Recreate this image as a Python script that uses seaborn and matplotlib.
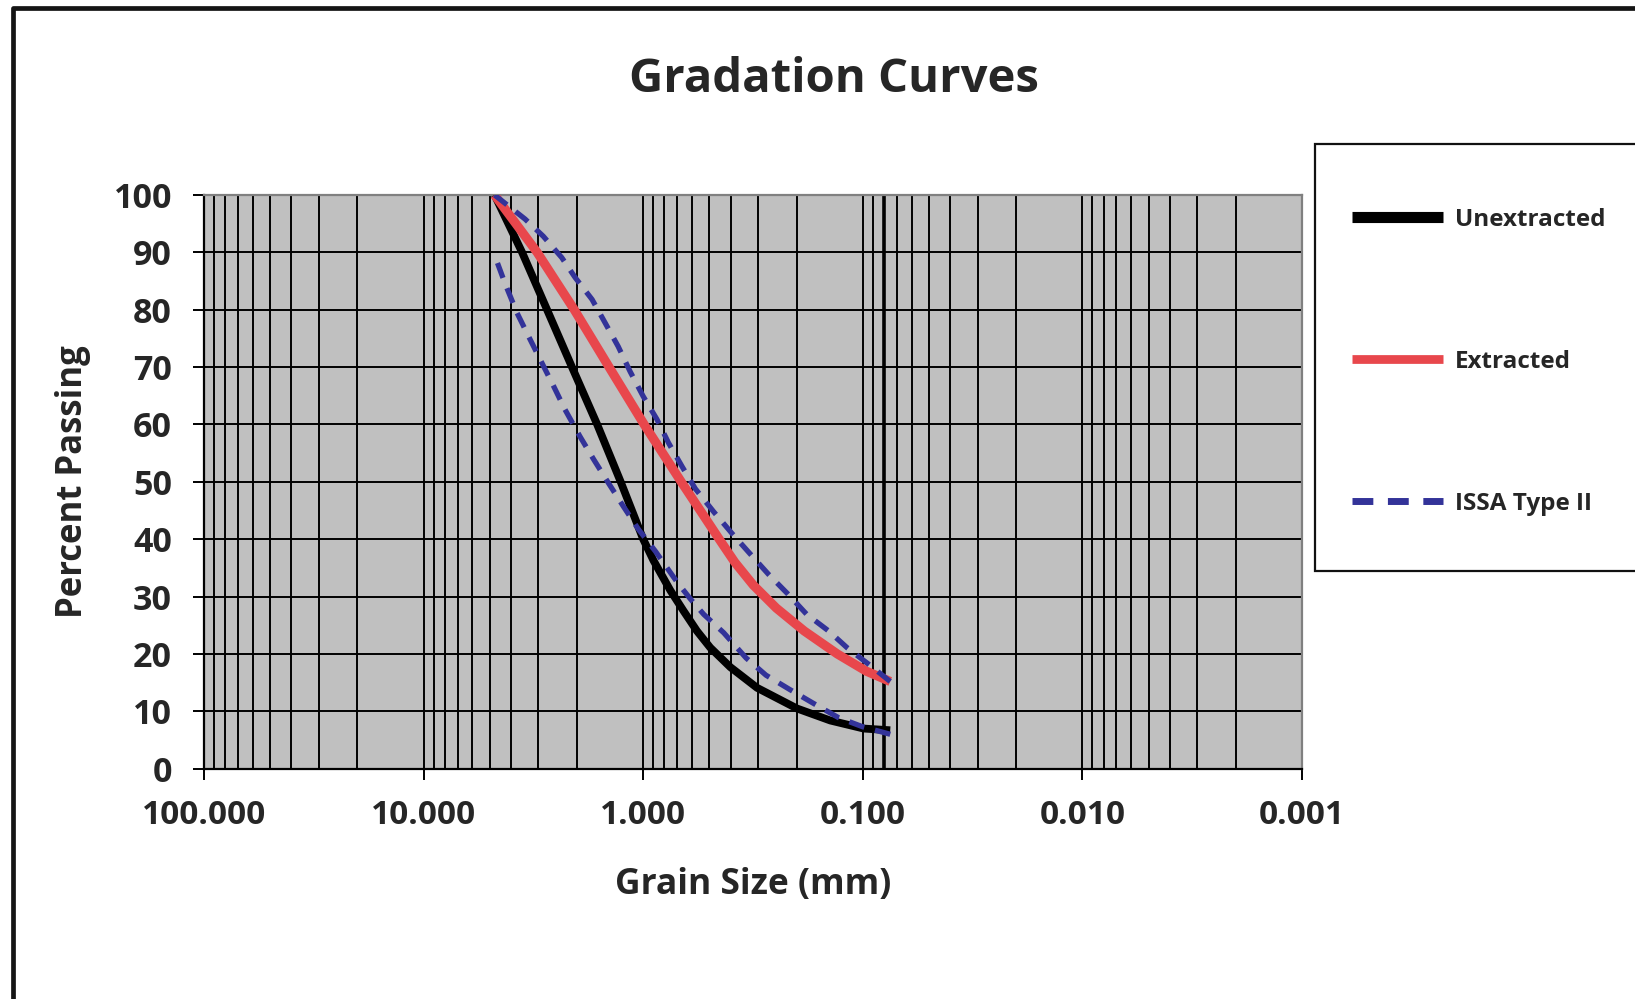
import matplotlib
matplotlib.use("Agg")
import matplotlib.pyplot as plt
import matplotlib.ticker as mticker
from matplotlib.patches import Rectangle
from matplotlib.lines import Line2D
import seaborn as sns
import pandas as pd

# ---------------- data ----------------
unextracted_size = [4.75, 3.56, 2.74, 2.11, 1.62, 1.266, 1.00, 0.898, 0.753, 0.655, 0.569,
                    0.495, 0.401, 0.303, 0.1995, 0.1406, 0.0992, 0.075]
unextracted_pct = [100, 90, 80, 70, 60, 50, 40, 36.3, 31.1, 27.5, 24.0,
                   21.1, 17.7, 14.1, 10.5, 8.4, 7.0, 6.7]

extracted_size = [4.75, 3.04, 2.06, 1.43, 0.99, 0.671, 0.4505, 0.383, 0.3153, 0.2477,
                  0.1847, 0.1306, 0.0964, 0.075]
extracted_pct = [100, 90, 80, 70, 60, 50, 40, 36, 32, 28,
                 24, 20, 17, 15.2]

issa_upper_size = [4.75, 3.45, 2.85, 2.35, 2.04, 1.71, 1.49, 1.30, 1.146, 1.0, 0.866,
                   0.767, 0.666, 0.579, 0.478, 0.394, 0.325, 0.269, 0.22, 0.18, 0.143,
                   0.118, 0.094, 0.075]
issa_upper_pct = [100, 95.8, 92.8, 89.1, 85.6, 81.8, 77.7, 73.6, 69.2, 64.9, 60.9,
                  56.8, 52.7, 48.8, 44.8, 41.0, 37.4, 33.9, 30.5, 26.9, 24.0,
                  21.1, 18.2, 15.2]

issa_lower_size = [4.75, 4.25, 3.76, 3.33, 2.89, 2.56, 2.27, 1.94, 1.68, 1.44, 1.23,
                   1.05, 0.88, 0.70, 0.61, 0.53, 0.43, 0.34, 0.276, 0.215, 0.168,
                   0.129, 0.10, 0.075]
issa_lower_pct = [89.5, 84.5, 79.5, 75.4, 70.7, 66.7, 62.6, 57.9, 53.9, 49.8, 45.7,
                  41.7, 37.9, 32.5, 29.6, 26.9, 23.7, 19.3, 16.3, 13.8, 11.4,
                  8.9, 7.3, 6.0]

series_labels = ["Unextracted", "Extracted", "ISSA Type II"]
x_tick_values = [100, 10, 1, 0.1, 0.01, 0.001]
x_tick_labels = ["100.000", "10.000", "1.000", "0.100", "0.010", "0.001"]
y_tick_values = [0, 10, 20, 30, 40, 50, 60, 70, 80, 90, 100]
heavy_grid_size = 0.08  # the vertical grid line drawn heavier in the reference

title = "Gradation Curves"
x_label = "Grain Size (mm)"
y_label = "Percent Passing"

# ---------------- style ----------------
sns.set_style("white")
plt.rcParams["font.family"] = ["Open Sans", "DejaVu Sans"]
plt.rcParams["font.weight"] = "bold"
plt.rcParams["lines.solid_capstyle"] = "butt"
plt.rcParams["lines.solid_joinstyle"] = "round"

BLACK = "#000000"
RED = "#E8474C"
BLUE = "#333399"
GRAY_BG = "#C0C0C0"

df_unext = pd.DataFrame({"size": unextracted_size, "pct": unextracted_pct})
df_ext = pd.DataFrame({"size": extracted_size, "pct": extracted_pct})
df_up = pd.DataFrame({"size": issa_upper_size, "pct": issa_upper_pct})
df_low = pd.DataFrame({"size": issa_lower_size, "pct": issa_lower_pct})

W, H = 1635, 999
fig = plt.figure(figsize=(W / 100, H / 100), dpi=100)
fig.patch.set_facecolor("white")

ax = fig.add_axes([204 / W, 1 - 768.7 / H, (1302 - 204) / W, (768.7 - 195) / H])
ax.set_facecolor(GRAY_BG)

dash = (0, (3.0, 2.1))
sns.lineplot(data=df_unext, x="size", y="pct", ax=ax, color=BLACK, linewidth=5.6,
             label=series_labels[0], legend=False, zorder=3)
sns.lineplot(data=df_ext, x="size", y="pct", ax=ax, color=RED, linewidth=6.6,
             label=series_labels[1], legend=False, zorder=4)
sns.lineplot(data=df_up, x="size", y="pct", ax=ax, color=BLUE, linewidth=3.8,
             linestyle=dash, label=series_labels[2], legend=False, zorder=5)
sns.lineplot(data=df_low, x="size", y="pct", ax=ax, color=BLUE, linewidth=3.8,
             linestyle=dash, legend=False, zorder=5)

ax.set_xscale("log")
ax.set_xlim(x_tick_values[0], x_tick_values[-1])
ax.set_ylim(y_tick_values[0], y_tick_values[-1])

ax.xaxis.set_major_locator(mticker.FixedLocator(x_tick_values))
ax.xaxis.set_major_formatter(mticker.FixedFormatter(x_tick_labels))
ax.xaxis.set_minor_locator(mticker.LogLocator(base=10, subs=range(2, 10), numticks=20))
ax.xaxis.set_minor_formatter(mticker.NullFormatter())
ax.yaxis.set_major_locator(mticker.FixedLocator(y_tick_values))

ax.set_axisbelow(True)
ax.grid(True, which="both", axis="x", color="black", linewidth=1.4)
ax.grid(True, which="major", axis="y", color="black", linewidth=1.4)
ax.axvline(heavy_grid_size, color="black", linewidth=2.6, zorder=0.6)

ax.tick_params(axis="x", which="major", direction="out", length=8, width=1.4,
               pad=14, labelsize=24, bottom=True, top=False, color="black")
ax.tick_params(axis="x", which="minor", length=0)
ax.tick_params(axis="y", which="major", direction="out", length=8, width=1.4,
               pad=15, labelsize=24.5, left=True, right=False, color="black")
for lab in ax.get_xticklabels() + ax.get_yticklabels():
    lab.set_fontweight("bold")

for side in ["left", "bottom"]:
    ax.spines[side].set_color("black")
    ax.spines[side].set_linewidth(1.6)
for side in ["top", "right"]:
    ax.spines[side].set_color("#808080")
    ax.spines[side].set_linewidth(1.6)

ax.set_xlabel(x_label, fontsize=25.5, fontweight="bold")
ax.set_ylabel(y_label, fontsize=25, fontweight="bold")
ax.xaxis.set_label_coords(0.5, -0.171)
ax.yaxis.set_label_coords(-0.103, 0.5)

fig.text(834 / W, 1 - 92 / H, title, ha="center", va="baseline",
         fontsize=34, fontweight="bold")

# legend box (extends past the right edge like the reference)
fig.add_artist(Rectangle((1315 / W, 1 - 570.7 / H), 0.3, (570.7 - 144.3) / H,
                         transform=fig.transFigure, facecolor="white",
                         edgecolor="#111111", linewidth=1.6, clip_on=False, zorder=1))

lines = ax.get_lines()
handles = [lines[0], lines[1], lines[2]]
leg = fig.legend(handles, series_labels, loc="upper left",
                 bbox_to_anchor=(1351.7 / W, 1 - 207.5 / H), bbox_transform=fig.transFigure,
                 frameon=False, borderpad=0, borderaxespad=0, handlelength=3.77,
                 handletextpad=0.48, labelspacing=4.86,
                 prop={"size": 17.5, "weight": "bold"})
leg.set_zorder(5)
for hl, lw in zip(leg.get_lines(), [8.0, 6.3, 5.0]):
    hl.set_linewidth(lw)

# outer chart frame (left and top edges visible)
fig.add_artist(Line2D([13 / W, 13 / W, 1.01], [-0.01, 1 - 7.5 / H, 1 - 7.5 / H],
                      transform=fig.transFigure, color="#151515", linewidth=3.4,
                      solid_capstyle="projecting"))

fig.savefig("out.png", dpi=100)
